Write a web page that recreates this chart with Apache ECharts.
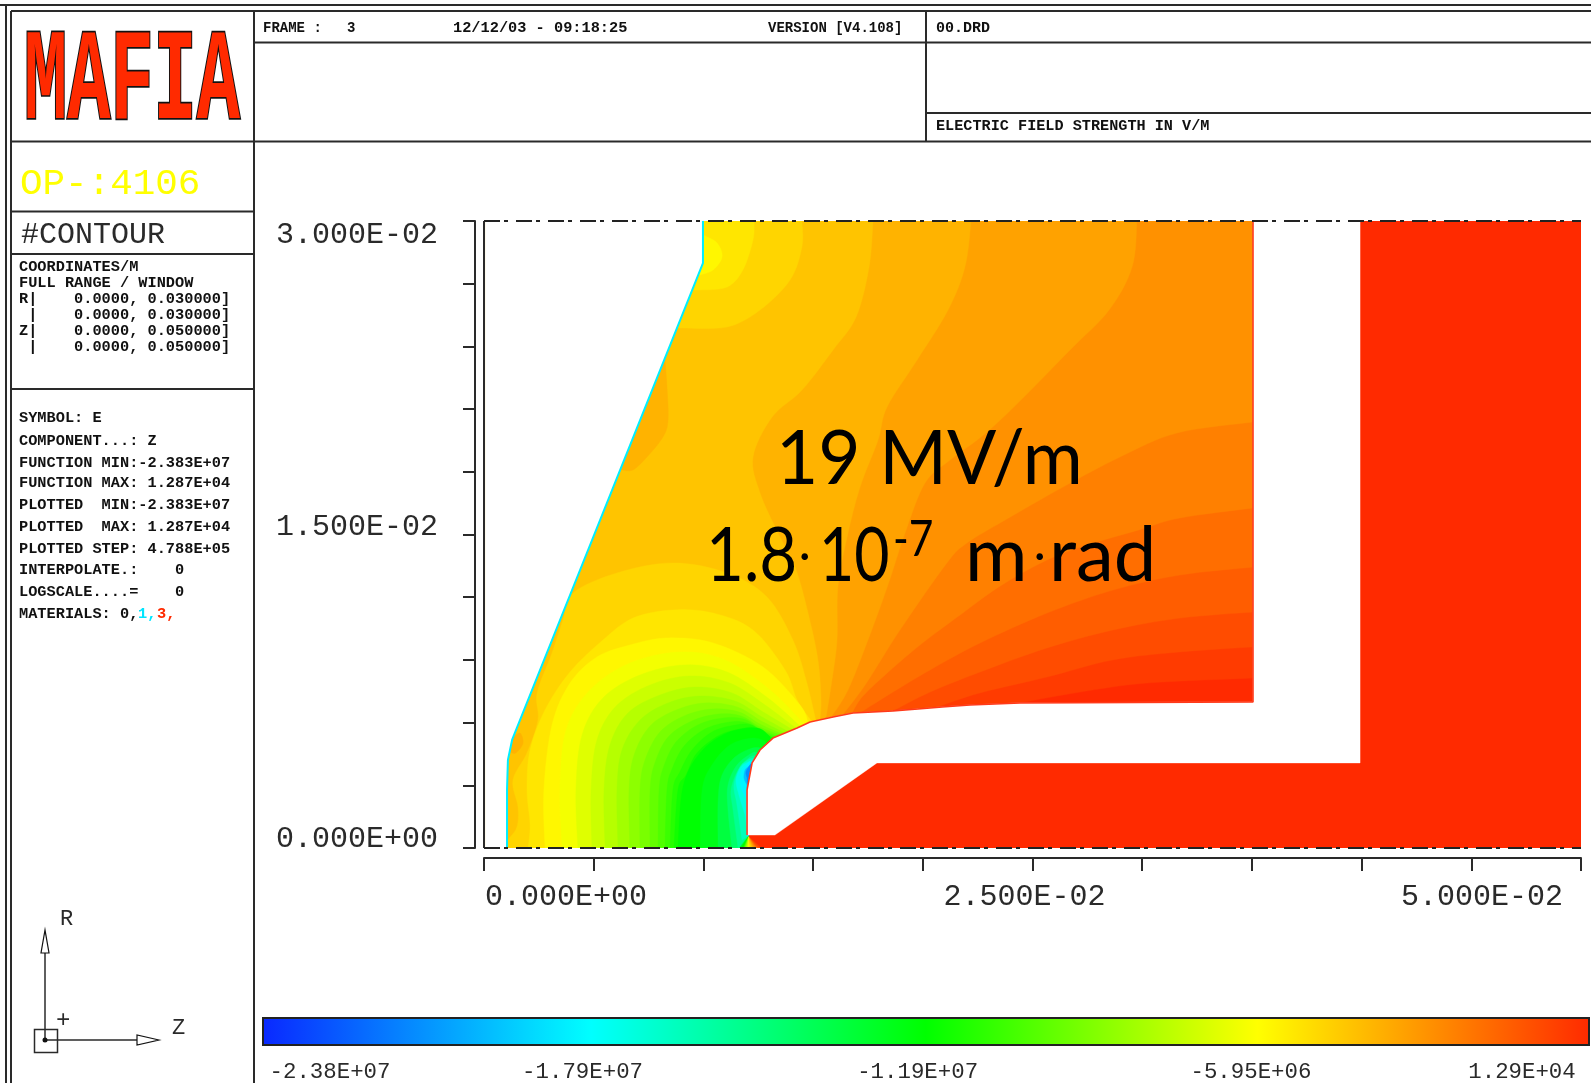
<!DOCTYPE html>
<html><head><meta charset="utf-8">
<style>html,body{margin:0;padding:0;background:#fff}#c{width:1591px;height:1083px}</style>
<script src="https://cdn.jsdelivr.net/npm/echarts@6/dist/echarts.min.js"></script>
</head><body><div id="c"></div>
<script>
// Axis data (millimetres; labels carry the metres the plot prints)
const zTickLabels = {0:'0.000E+00',25:'2.500E-02',50:'5.000E-02'};
const rTickLabels = {0:'0.000E+00',15:'1.500E-02',30:'3.000E-02'};
// Colour scale
const scaleLabels = ['-2.38E+07','-1.79E+07','-1.19E+07','-5.95E+06','1.29E+04'];
const scaleValues = [-2.38e7,-1.79e7,-1.19e7,-5.95e6,1.29e4];
const scaleColors = ['#0a28ff','#00ffff','#00ff00','#ffff00','#ff2a00'];
const plottedStep = 4.788e5;
// Contour lines: [z mm, r mm]
const contour01=[[35.05,8.13],[30.22,7.89],[27.17,7.46],[24.43,6.94]];
const contour02=[[35.05,9.62],[31.72,9.38],[28.67,9.00],[25.66,8.18],[22.61,7.42],[20.78,6.79]];
const contour03=[[35.05,11.29],[31.72,11.00],[28.67,10.43],[25.66,9.57],[22.61,8.42],[20.33,7.46],[18.64,6.56]];
const contour04=[[35.05,13.44],[31.72,13.06],[28.67,12.34],[25.66,11.24],[22.61,9.81],[20.33,8.52],[18.64,7.46],[17.27,6.56]];
const contour05=[[35.05,16.27],[31.72,15.79],[29.85,15.22],[26.39,14.11],[23.75,12.68],[21.70,11.15],[19.87,9.71],[18.28,8.28],[17.23,7.22],[16.77,6.46]];
const contour06=[[35.05,20.38],[31.59,19.86],[28.99,18.71],[26.39,17.27],[23.75,15.69],[22.01,14.59],[21.10,13.64],[18.96,10.43],[17.37,7.80],[16.23,6.22]];
const contour07=[[29.76,30],[29.54,27.80],[28.49,25.74],[26.71,23.83],[24.61,21.58],[22.88,19.86],[21.24,18.56],[20.10,17.46],[19.19,15.07],[18.41,12.58],[17.50,9.95],[16.59,7.56],[15.86,6.32]];
const contour08=[[22.20,30],[21.92,27.80],[21.15,25.74],[19.74,23.35],[18.37,21.10],[17.96,19.52],[17.14,17.27],[16.55,14.88],[16.13,12.49],[16.09,9.95],[15.86,8.04],[15.59,6.27]];
const contour09=[[17.73,30],[17.55,27.80],[16.96,25.41],[15.91,23.83],[14.49,21.91],[13.13,20.62],[12.26,18.71],[12.58,16.99],[13.40,15.07],[14.18,13.44],[14.77,11.24],[15.22,9.00],[15.36,7.08],[15.31,6.12]];
const contour10=[[0.96,0],[1.09,0.38],[1.50,1.00],[1.55,1.96],[1.32,3.25],[1.96,4.55],[2.46,6.12],[2.42,7.42],[3.10,9.33],[3.60,10.91],[4.06,12.20],[6.06,13.16],[8.61,13.64],[11.08,13.16],[12.90,12.01],[14.08,9.95],[14.68,8.04],[15.13,6.08]];
const contour11=[[2.01,0],[2.10,1.10],[1.96,2.78],[2.10,4.69],[2.78,6.60],[3.92,8.42],[5.42,9.95],[6.79,11.00],[8.61,11.39],[10.44,11.24],[12.26,10.43],[13.72,8.52],[14.27,7.08],[14.95,6.03]];
const contour12=[[2.78,0],[2.73,2.78],[3.10,5.89],[3.92,7.89],[5.15,9.14],[6.65,9.71],[8.34,10.05],[10.44,9.81],[12.72,8.66],[14.40,6.84],[14.77,5.98]];
const contour13=[[3.56,0],[3.46,2.78],[3.74,5.65],[4.83,7.56],[6.65,8.85],[8.93,9.38],[10.98,9.00],[13.04,7.56],[14.63,5.89]];
const contour14=[[4.28,0],[4.19,2.78],[4.47,5.41],[5.42,7.18],[7.11,8.28],[9.16,8.76],[11.08,8.42],[12.94,7.18],[14.45,5.79]];
const contour15=[[4.92,0],[4.88,2.78],[5.15,5.17],[6.02,6.79],[7.57,7.80],[9.39,8.23],[11.21,7.89],[12.81,6.84],[14.27,5.69]];
const contour16=[[5.52,0],[5.47,2.78],[5.74,4.93],[6.56,6.46],[8.02,7.32],[9.62,7.70],[11.30,7.42],[12.72,6.51],[14.08,5.65]];
const contour17=[[6.11,0],[6.06,2.78],[6.29,4.69],[7.11,6.12],[8.39,6.94],[9.85,7.27],[11.44,7.03],[12.67,6.27],[13.90,5.55]];
const contour18=[[6.65,0],[6.61,2.78],[6.84,4.45],[7.57,5.84],[8.75,6.60],[10.07,6.94],[11.53,6.75],[12.63,6.08],[13.72,5.50]];
const contour19=[[7.11,0],[7.11,2.78],[7.34,4.21],[8.02,5.55],[9.12,6.32],[10.39,6.65],[11.62,6.51],[12.58,5.93],[13.58,5.45]];
const contour20=[[7.57,0],[7.57,2.78],[7.79,4.07],[8.39,5.31],[9.48,6.08],[10.67,6.41],[11.71,6.32],[12.58,5.79],[13.49,5.41]];
const contour21=[[7.93,0],[7.98,2.78],[8.20,3.92],[8.75,5.07],[9.75,5.89],[10.89,6.22],[11.85,6.17],[12.58,5.69],[13.35,5.36]];
const contour22=[[8.25,0],[8.34,2.78],[8.57,3.78],[9.12,4.88],[10.07,5.69],[11.21,6.03],[11.99,5.98],[12.67,5.60],[13.26,5.31]];
const contour23=[[8.48,0],[8.61,2.78],[8.93,3.64],[9.48,4.69],[10.39,5.55],[11.49,5.89],[12.17,5.89],[12.76,5.50],[13.22,5.26]];
const contour24=[[8.66,0],[8.84,2.78],[9.21,3.49],[9.71,4.55],[10.76,5.41],[11.90,5.74],[12.35,5.74],[12.90,5.41],[13.17,5.22]];
const contour25=[[8.84,0],[9.07,2.92],[9.85,4.55],[11.08,5.50],[12.44,5.74],[13.04,5.31]];
const contour26=[[9.85,0],[9.94,2.78],[10.39,3.97],[11.21,4.93],[12.22,5.26],[12.81,5.12]];
const contour28=[[10.67,0],[10.67,2.30],[10.85,3.49],[11.44,4.35],[12.22,4.78],[12.67,4.78]];
const contour30=[[11.30,0],[11.12,1.82],[11.12,3.01],[11.53,3.97],[12.22,4.55],[12.49,4.55]];
const contour32=[[11.58,0],[11.35,1.82],[11.26,2.78],[11.58,3.73],[12.12,4.35],[12.40,4.40]];
const contour34=[[11.76,0.38],[11.53,2.06],[11.39,3.01],[11.67,3.88],[12.03,4.21],[12.31,4.31]];
const contour36=[[11.90,1.58],[11.62,2.54],[11.49,3.25],[11.71,3.88],[12.03,4.11],[12.26,4.21]];
const contour38=[[11.99,2.30],[11.71,2.92],[11.71,3.64],[11.99,4.02],[12.22,4.21]];
const contour41=[[11.99,3.01],[11.85,3.35],[11.90,3.73],[12.08,3.92],[12.22,4.11]];
const contour44=[[11.99,3.35],[11.94,3.64],[12.12,3.97],[12.22,4.07]];
// Islands of the field: the curve, then the points that close it behind the walls
const island10=[[14.49,30],[14.49,28.76],[13.95,27.18],[12.58,25.74],[11.08,24.93],[9.07,24.88]];
const island10Tail=[[8.02,24.88],[8.02,30]];
const island11=[[12.31,30],[12.26,29.09],[11.80,27.66],[11.08,26.84],[9.85,26.70]];
const island11Tail=[[8.93,26.70],[8.93,30]];
const island12=[[9.98,29.33],[10.62,28.95],[10.85,28.28],[10.44,27.66],[9.85,27.42]];
const island12Tail=[[9.39,27.42],[9.39,29.33]];
const patchA08=[[8.25,23.35],[8.34,22.06],[8.39,20.48],[8.16,19.67],[7.43,18.71],[6.79,18.09],[6.29,18.09]];
const patchA08Tail=[[5.29,18.09],[7.11,22.87]];
const patchB08=[[1.28,5.26],[1.64,5.50],[1.78,5.02],[1.50,4.59],[1.28,4.55],[0.73,4.93]];
// Vacuum/conductor geometry
const insideConductor=[13.49,2.78];
const conductorApex=[12.03,0.57];
const cathodeEdge=[[1.05,0],[1.05,2.78],[1.09,4.21],[1.28,5.17],[9.98,27.99],[9.98,30]];
const anodeEdge=[[11.99,0.62],[11.99,2.78],[12.22,4.07],[12.58,4.69],[13.17,5.26],[14.27,5.74],[14.86,6.03],[15.91,6.27],[16.82,6.46],[18.64,6.56],[19.78,6.65],[20.88,6.75],[22.15,6.84],[24.43,6.94],[35.05,6.99],[35.05,30]];
const gapEdge=[[39.93,30],[39.93,4.07],[17.91,4.07],[13.26,0.62]];

const contourTable=[
 [1,contour01,12.67],[2,contour02,12.58],[3,contour03,12.49],[4,contour04,12.44],[5,contour05,12.40],
 [6,contour06,12.35],[7,contour07,12.31],[8,contour08,12.26],[9,contour09,12.22],[10,contour10,12.17],
 [11,contour11,12.12],[12,contour12,12.08],[13,contour13,12.05],[14,contour14,12.03],[15,contour15,12.0],
 [16,contour16,11.98],[17,contour17,11.95],[18,contour18,11.93],[19,contour19,11.9],[20,contour20,11.88],
 [21,contour21,11.86],[22,contour22,11.84],[23,contour23,11.82],[24,contour24,11.8],[25,contour25,11.78],
 [26,contour26,11.72],[28,contour28,11.66],[30,contour30,11.6],[32,contour32,11.6],
 [34,contour34,null],[36,contour36,null],[38,contour38,null],[41,contour41,null],[44,contour44,null]];
const lowIslands=[[8,patchA08,patchA08Tail],[8,patchB08,[]]];
const highIslands=[[10,island10,island10Tail],[11,island11,island11Tail],[12,island12,island12Tail]];

function levelColor(k){
  const v=scaleValues[4]-k*plottedStep;
  if(v>=scaleValues[4])return scaleColors[4];
  for(let i=0;i<4;i++){
    if(v<=scaleValues[i+1]){
      const t=Math.max(0,(v-scaleValues[i])/(scaleValues[i+1]-scaleValues[i]));
      return echarts.color.lerp(t,[scaleColors[i],scaleColors[i+1]]);
    }
  }
  return scaleColors[4];
}
const polygons=[{fill:levelColor(0),curve:[],tail:[[0,0],[50,0],[50,30],[0,30]]}];
const addIsland=function(r){polygons.push({fill:levelColor(r[0]),curve:r[1],tail:r[2]});};
contourTable.forEach(function(row){
  const k=row[0],line=row[1],fan=row[2];
  let tail=[insideConductor,conductorApex];
  if(fan!==null)tail.push([fan,0]);
  if(k<10)tail=tail.concat([[0,0],[0,30],[line[0][0],30]]);
  polygons.push({fill:levelColor(k),curve:line,tail:tail});
  if(k===9)lowIslands.forEach(addIsland);
  if(k===12)highIslands.forEach(addIsland);
});
const masks=[
  {fill:'#fff',curve:[],tail:[[0.05,0]].concat(cathodeEdge,[[0.05,30]])},
  {fill:'#fff',curve:[],tail:anodeEdge.concat(gapEdge)}
];
// Rounds a contour's corners on screen (Catmull-Rom drawn through the read points)
function rounded(p){
  if(p.length<3)return p;
  const out=[];
  for(let i=0;i<p.length-1;i++){
    const a=p[Math.max(i-1,0)],b=p[i],c=p[i+1],d=p[Math.min(i+2,p.length-1)];
    for(let s=0;s<8;s++){
      const t=s/8,t2=t*t,t3=t2*t;
      out.push([0,1].map(function(j){
        return 0.5*(2*b[j]+(c[j]-a[j])*t+(2*a[j]-5*b[j]+4*c[j]-d[j])*t2+(3*b[j]-a[j]-3*c[j]+d[j])*t3);
      }));
    }
  }
  out.push(p[p.length-1]);
  return out;
}
function polySeries(list,name){
  return {type:'custom',name:name,coordinateSystem:'cartesian2d',xAxisIndex:0,yAxisIndex:0,clip:true,silent:true,
    data:list.map(function(p,i){return [i];}),
    renderItem:function(params,api){
      const p=list[params.dataIndex];
      const pts=rounded(p.curve.map(function(q){return api.coord(q);})).concat(p.tail.map(function(q){return api.coord(q);}));
      return {type:'polygon',shape:{points:pts},style:{fill:p.fill,stroke:p.fill,lineWidth:0.4}};
    }};
}
function lineSeries(data,color,width,type){
  return {type:'line',xAxisIndex:0,yAxisIndex:0,data:data,showSymbol:false,symbol:'none',silent:true,clip:false,
    lineStyle:{color:color,width:width,type:type||'solid'}};
}
const INK='#2a2a2a';
const MONO='"Liberation Mono",monospace';
const MONOF='Liberation Mono';

const hl=function(x1,y1,x2,y2,w){return {type:'line',shape:{x1:x1,y1:y1,x2:x2,y2:y2},style:{stroke:INK,lineWidth:w||2},silent:true};};
const small=function(x,y,t,size,extra){return {type:'text',x:x,y:y,silent:true,style:Object.assign({text:t,fill:'#111',font:'bold '+(size||15.3)+'px '+MONO,verticalAlign:'middle',align:'left'},extra||{})};};
const big=function(x,y,t,size,color){return {type:'text',x:x,y:y,silent:true,style:{text:t,fill:color||INK,font:size+'px '+MONO,verticalAlign:'middle',align:'left'}};};
const gill=function(x,y,t,size,sx){return {type:'text',x:x,y:y,scaleX:sx||1,silent:true,z:50,style:{text:t,fill:'#000',font:size+'px Lato',verticalAlign:'bottom',align:'left'}};};

const graphics=[
  hl(0,5,1591,5),hl(11,11,1591,11),hl(6,5,6,1083),hl(11,11,11,1083),
  hl(254,11,254,1083),hl(11,141.5,1591,141.5),hl(254,42.5,1591,42.5),hl(926,11,926,141.5),hl(926,113,1591,113),
  hl(11,211.5,254,211.5),hl(11,254,254,254),hl(11,389,254,389),
  {type:'text',x:24,y:21,silent:true,scaleX:1.2,scaleY:2.15,style:{text:'MAFIA',fill:'#ff2a00',stroke:'#111',lineWidth:1.6,font:'bold 60px '+MONO,verticalAlign:'top',align:'left'}},
  small(263,28,'FRAME :   3',14),small(453,28,'12/12/03 - 09:18:25',15.3),small(768,28,'VERSION [V4.108]',14),small(936,28,'00.DRD',15),
  small(936,126,'ELECTRIC FIELD STRENGTH IN V/M',15.2),
  big(20,184,'OP-:4106',37.6,'#ffff00'),big(21,235,'#CONTOUR',30),
  small(19,267,'COORDINATES/M'),small(19,283,'FULL RANGE / WINDOW'),
  small(19,299.5,'R|    0.0000, 0.030000]'),small(19,315,' |    0.0000, 0.030000]'),
  small(19,331,'Z|    0.0000, 0.050000]'),small(19,347,' |    0.0000, 0.050000]'),
  small(19,418,'SYMBOL: E'),small(19,441,'COMPONENT...: Z'),
  small(19,463,'FUNCTION MIN:-2.383E+07'),small(19,483,'FUNCTION MAX: 1.287E+04'),
  small(19,505,'PLOTTED  MIN:-2.383E+07'),small(19,527,'PLOTTED  MAX: 1.287E+04'),
  small(19,549,'PLOTTED STEP: 4.788E+05'),small(19,570,'INTERPOLATE.:    0'),small(19,592,'LOGSCALE....=    0'),
  small(19,614,'MATERIALS: 0,'),small(138,614,'1,',15.3,{fill:'#00e5ff'}),small(157,614,'3,',15.3,{fill:'#ff2a00'}),
  // axis triad
  hl(45,932,45,1040,1.5),hl(45,1040,155,1040,1.5),
  {type:'polygon',shape:{points:[[45,930],[41,953],[49,953]]},style:{fill:'#fff',stroke:'#111',lineWidth:1.2},silent:true},
  {type:'polygon',shape:{points:[[159,1040],[137,1035],[137,1045]]},style:{fill:'#fff',stroke:'#111',lineWidth:1.2},silent:true},
  {type:'rect',shape:{x:34.5,y:1029.5,width:23,height:23},style:{fill:'none',stroke:INK,lineWidth:1.5},silent:true},
  {type:'circle',shape:{cx:45,cy:1040,r:2.5},style:{fill:'#111'},silent:true},
  big(60,919,'R',22),big(56,1021,'+',24),big(172,1028,'Z',22),
  // annotation
  gill(776,497,'19 MV/m',76,0.96),
  gill(706,594,'1.8',76,0.86),gill(799,578,'·',44),gill(819,594,'10',76,0.8),gill(893,565,'-7',50,0.85),gill(965,594,'m',76),gill(1034,578,'·',44),gill(1049,594,'rad',76)
];
const monoRich=function(size,pad){return {fontSize:size,fontFamily:MONOF,color:INK,padding:pad};};

const option={
  animation:false,
  backgroundColor:'#fff',
  grid:[
    {left:484,top:221,width:1097,height:627,containLabel:false},
    {left:263,top:1018,width:1326,height:28,containLabel:false}
  ],
  xAxis:[
    {type:'value',gridIndex:0,min:0,max:50,interval:5,offset:10,position:'bottom',
     axisLine:{show:true,onZero:false,lineStyle:{color:INK,width:2}},
     axisTick:{show:true,length:13,inside:false,lineStyle:{color:INK,width:2}},
     splitLine:{show:false},
     axisLabel:{show:true,customValues:[0,25,50],margin:24,hideOverlap:false,showMinLabel:true,showMaxLabel:true,
       formatter:function(v){const n={0:'a',25:'b',50:'c'}[v];return '{'+n+'|'+zTickLabels[v]+'}';},
       rich:{a:monoRich(30,[0,0,0,164]),b:monoRich(30,[0,16,0,0]),c:monoRich(30,[0,198,0,0])}}},
    {type:'value',gridIndex:1,min:scaleValues[0],max:scaleValues[4],position:'bottom',
     axisLine:{show:false},axisTick:{show:false},splitLine:{show:false},
     axisLabel:{show:true,customValues:scaleValues,margin:16,hideOverlap:false,showMinLabel:true,showMaxLabel:true,
       formatter:function(v){const i=scaleValues.indexOf(v);return '{s'+i+'|'+scaleLabels[i]+'}';},
       rich:{s0:monoRich(22.4,[0,0,0,134]),s1:monoRich(22.4,[0,18,0,0]),s2:monoRich(22.4,[0,16,0,0]),s3:monoRich(22.4,[0,12,0,0]),s4:monoRich(22.4,[0,134,0,0])}}}
  ],
  yAxis:[
    {type:'value',gridIndex:0,min:0,max:30,interval:3,offset:9,position:'left',
     axisLine:{show:true,onZero:false,lineStyle:{color:INK,width:2}},
     axisTick:{show:true,length:12,lineStyle:{color:INK,width:2}},
     splitLine:{show:false},
     axisLabel:{show:true,customValues:[0,15,30],margin:37,hideOverlap:false,showMinLabel:true,showMaxLabel:true,
       formatter:function(v){const n={0:'a',15:'b',30:'c'}[v];return '{'+n+'|'+rTickLabels[v]+'}';},
       rich:{a:monoRich(30,[0,0,18,0]),b:monoRich(30,[0,0,14,0]),c:monoRich(30,[28,0,0,0])}}},
    {type:'value',gridIndex:1,min:0,max:1,show:false}
  ],
  series:[
    polySeries(polygons,'field'),
    polySeries(masks,'vacuum'),
    lineSeries(cathodeEdge,'#00eeff',2),
    lineSeries(anodeEdge,'#ff3a1a',1.6),
    lineSeries([[0,0],[0,30]],INK,2),
    lineSeries([[0,30],[50,30]],'#222',2,[16,4,4,8]),
    lineSeries([[0,0],[50,0]],'#222',2,[16,4,4,8]),
    {type:'custom',name:'scale',coordinateSystem:'cartesian2d',xAxisIndex:1,yAxisIndex:1,silent:true,clip:false,
     data:[[scaleValues[0],scaleValues[4]]],
     renderItem:function(params,api){
       const a=api.coord([api.value(0),0]),b=api.coord([api.value(1),1]);
       const span=scaleValues[4]-scaleValues[0];
       return {type:'rect',shape:{x:a[0],y:b[1],width:b[0]-a[0],height:a[1]-b[1]},
         style:{stroke:'#222',lineWidth:2,fill:new echarts.graphic.LinearGradient(0,0,1,0,
           scaleValues.map(function(v,i){return {offset:(v-scaleValues[0])/span,color:scaleColors[i]};}))}};
     }}
  ],
  graphic:graphics
};
echarts.init(document.getElementById('c'),null,{renderer:'canvas'}).setOption(option);
</script></body></html>
